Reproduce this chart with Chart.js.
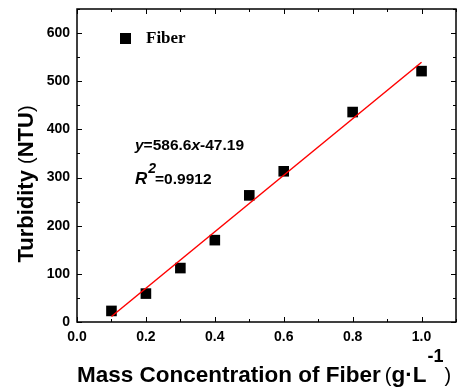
<!DOCTYPE html>
<html>
<head>
<meta charset="utf-8">
<script src="https://cdn.jsdelivr.net/npm/chart.js@4"></script>
<style>
  html, body { margin: 0; padding: 0; background: #fff; }
  #wrap { width: 457px; height: 390px; }
</style>
</head>
<body>
<div id="wrap"><canvas id="myChart" width="457" height="390"></canvas></div>
<script>
'use strict'
// measured points
let massConc = [0.1, 0.2, 0.3, 0.4, 0.5, 0.6, 0.8, 1.0];
let turbidity = [23, 59, 112, 170, 263, 313, 436, 521];
// fitted line ends (y=586.6x-47.19)
let fitX = [0.1, 1.0];
let fitY = [11.5, 539.4];
let seriesName = 'Fiber';
let fitText = ['y=586.6x-47.19', 'R', '2', '=0.9912'];

let sans = '"Liberation Sans", Arial, sans-serif';
let serif = '"Liberation Serif", "Times New Roman", serif';

function noPad(s) {
  s.paddingLeft = 0;
  s.paddingRight = 0;
  s.paddingTop = 0;
  s.paddingBottom = 0;
}

// frame, inward ticks, titles, legend and equation
let decoPlugin = {
  id: 'deco',
  afterDraw(chart) {
    let ctx = chart.ctx;
    let a = chart.chartArea;
    let xs = chart.scales.x;
    let ys = chart.scales.y;
    ctx.save();
    ctx.strokeStyle = '#000';
    ctx.lineWidth = 1.5;
    ctx.strokeRect(a.left, a.top, a.right - a.left, a.bottom - a.top);

    ctx.lineWidth = 1;
    for (let v = 0; v <= 1.1001; v += 0.1) {
      let px = Math.round(xs.getPixelForValue(v)) + 0.5;
      let major = Math.round(v * 10) % 2 === 0;
      let len = major ? 5 : 3;
      ctx.beginPath();
      ctx.moveTo(px, a.bottom); ctx.lineTo(px, a.bottom - len);
      ctx.moveTo(px, a.top); ctx.lineTo(px, a.top + len);
      ctx.stroke();
    }
    for (let v = 0; v <= 650; v += 50) {
      let py = Math.round(ys.getPixelForValue(v)) + 0.5;
      let major = v % 100 === 0;
      let len = major ? 5 : 3;
      ctx.beginPath();
      ctx.moveTo(a.left, py); ctx.lineTo(a.left + len, py);
      ctx.moveTo(a.right, py); ctx.lineTo(a.right - len, py);
      ctx.stroke();
    }

    ctx.fillStyle = '#000';
    ctx.textBaseline = 'alphabetic';

    // y title
    ctx.save();
    ctx.translate(33, 184);
    ctx.rotate(-Math.PI / 2);
    let p1 = 'Turbidity ';
    ctx.font = 'bold 22px ' + sans;
    let w1 = ctx.measureText(p1).width;
    ctx.font = '20px ' + sans;
    let wo = ctx.measureText('(').width;
    ctx.font = 'bold 22px ' + sans;
    let w2 = ctx.measureText('NTU').width;
    let total = w1 + wo * 2 + w2;
    let x0 = -total / 2;
    ctx.textAlign = 'left';
    ctx.fillText(p1, x0, 0);
    ctx.font = '20px ' + sans;
    ctx.fillText('(', x0 + w1, 0);
    ctx.font = 'bold 22px ' + sans;
    ctx.fillText('NTU', x0 + w1 + wo, 0);
    ctx.font = '20px ' + sans;
    ctx.fillText(')', x0 + w1 + wo + w2, 0);
    ctx.restore();

    // x title
    let xx = 77, by = 382;
    ctx.textAlign = 'left';
    ctx.font = 'bold 22.5px ' + sans;
    ctx.fillText('Mass Concentration of Fiber', xx, by);
    xx += ctx.measureText('Mass Concentration of Fiber').width + 4;
    ctx.font = '20px ' + sans;
    ctx.fillText('(', xx, by);
    xx += ctx.measureText('(').width;
    ctx.font = 'bold 22.5px ' + sans;
    ctx.fillText('g\u00b7L', xx, by);
    xx += ctx.measureText('g\u00b7L').width + 1;
    ctx.font = 'bold 18px ' + sans;
    ctx.fillText('-1', xx, by - 20);
    xx += ctx.measureText('-1').width + 1;
    ctx.font = '20px ' + sans;
    ctx.fillText(')', xx, by);

    // legend
    let ds = chart.data.datasets[1];
    ctx.fillStyle = ds.backgroundColor;
    ctx.fillRect(120, 33, 11, 11);
    ctx.fillStyle = '#000';
    ctx.font = 'bold 17px ' + serif;
    ctx.fillText(seriesName, 146, 43);

    // equation
    let ex = 135;
    let ef = 15.5;
    ctx.font = 'bold italic ' + ef + 'px ' + sans;
    ctx.fillText('y', ex, 150);
    let wy = ctx.measureText('y').width;
    ctx.font = 'bold ' + ef + 'px ' + sans;
    ctx.fillText('=586.6', ex + wy, 150);
    let wn = ctx.measureText('=586.6').width;
    ctx.font = 'bold italic ' + ef + 'px ' + sans;
    ctx.fillText('x', ex + wy + wn, 150);
    let wx = ctx.measureText('x').width;
    ctx.font = 'bold ' + ef + 'px ' + sans;
    ctx.fillText('-47.19', ex + wy + wn + wx, 150);

    ctx.font = 'bold italic 17px ' + sans;
    ctx.fillText(fitText[1], ex, 184);
    let wr = ctx.measureText(fitText[1]).width;
    ctx.font = 'bold italic 14px ' + sans;
    ctx.fillText(fitText[2], ex + wr + 1, 173);
    let ws = ctx.measureText(fitText[2]).width;
    ctx.font = 'bold ' + ef + 'px ' + sans;
    ctx.fillText(fitText[3], ex + wr + ws, 184);
    ctx.restore();
  }
};

let points = massConc.map((v, i) => ({ x: v, y: turbidity[i] }));
let fitLine = fitX.map((v, i) => ({ x: v, y: fitY[i] }));

let ctx = document.getElementById('myChart').getContext('2d');
let myChart = new Chart(ctx, {
  type: 'scatter',
  data: {
    datasets: [
      {
        label: 'fit',
        type: 'line',
        data: fitLine,
        borderColor: '#ff0000',
        borderWidth: 1.5,
        pointRadius: 0,
        fill: false,
        order: 0
      },
      {
        label: seriesName,
        data: points,
        pointStyle: 'rect',
        pointRadius: 7.5,
        pointHoverRadius: 7.5,
        backgroundColor: '#000000',
        borderColor: '#000000',
        borderWidth: 0,
        order: 1
      }
    ]
  },
  options: {
    responsive: false,
    animation: false,
    events: [],
    layout: { autoPadding: false, padding: { top: 9, right: 1, left: 0, bottom: 0 } },
    plugins: {
      legend: { display: false },
      tooltip: { enabled: false }
    },
    scales: {
      x: {
        type: 'linear',
        min: 0,
        max: 1.1,
        afterFit(s) { s.height = 68; noPad(s); },
        grid: { display: false, drawTicks: false },
        border: { display: false },
        ticks: {
          stepSize: 0.2,
          includeBounds: false,
          padding: 7,
          color: '#000',
          font: { family: sans, size: 14, weight: 'bold' },
          callback: (v) => v.toFixed(1)
        }
      },
      y: {
        type: 'linear',
        min: 0,
        max: 650,
        afterFit(s) { s.width = 77; noPad(s); },
        grid: { display: false, drawTicks: false },
        border: { display: false },
        ticks: {
          stepSize: 100,
          includeBounds: false,
          padding: 7,
          color: '#000',
          font: { family: sans, size: 14, weight: 'bold' }
        }
      }
    }
  },
  plugins: [decoPlugin]
});
</script>
</body>
</html>
